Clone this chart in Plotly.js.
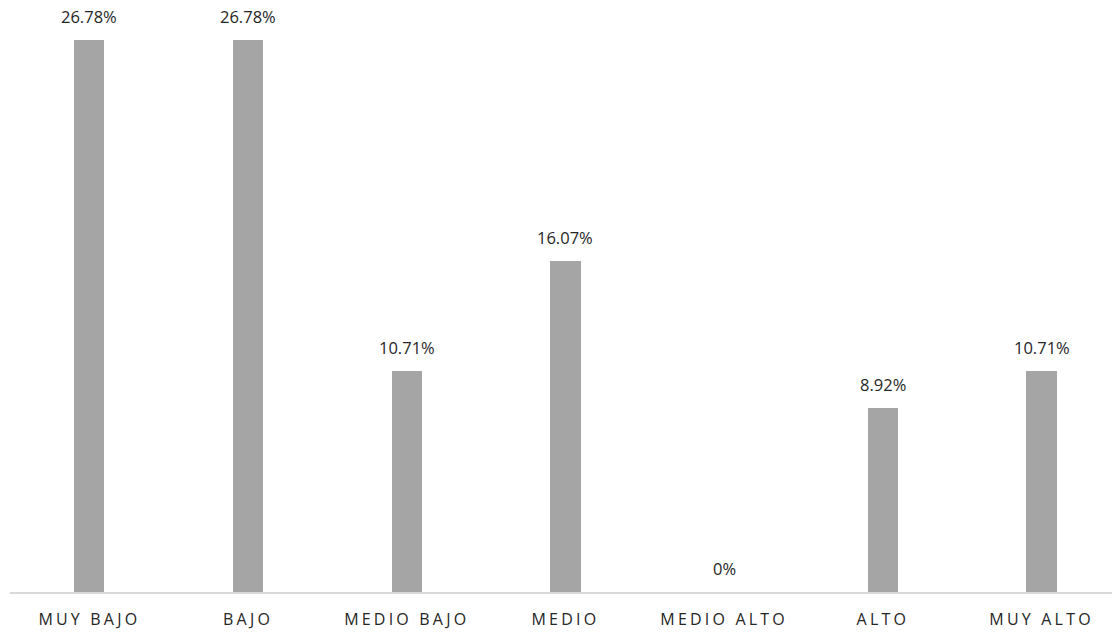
<!DOCTYPE html>
<html><head><meta charset="utf-8">
<script src="https://cdn.plot.ly/plotly-3.0.1.min.js"></script>
<style>
body{margin:0;background:#fff;}
.xtick text{letter-spacing:3.2px;}
</style>
</head><body>
<div id="chart" style="width:1112px;height:632px;"></div>
<script>
const categories = ["MUY BAJO","BAJO","MEDIO BAJO","MEDIO","MEDIO ALTO","ALTO","MUY ALTO"];
const values = [26.78, 26.78, 10.71, 16.07, 0, 8.92, 10.71];
const labels = ["26.78%","26.78%","10.71%","16.07%","0%","8.92%","10.71%"];

const font = {family:"Open Sans, Noto Sans, sans-serif", size:16.5, color:"#262626"};
const tfont = {family:"Open Sans, Noto Sans, sans-serif", size:16, color:"#262626"};

const annotations = categories.map((c,i)=>({
  x:c, y:values[i], xref:"x", yref:"y", text:labels[i], showarrow:false,
  yanchor:"bottom", yshift:10, font:font
}));

Plotly.newPlot("chart",[{
  type:"bar", x:categories, y:values, width:0.19,
  marker:{color:"#a5a5a5"}, hoverinfo:"none"
}],{
  width:1112, height:632,
  margin:{l:10,r:0,t:0,b:40},
  paper_bgcolor:"#fff", plot_bgcolor:"#fff",
  showlegend:false,
  bargap:0,
  xaxis:{type:"category", range:[-0.5,6.444], showgrid:false, zeroline:false,
    showline:true, linecolor:"#d9d9d9", linewidth:1.5, ticks:"", ticklabelstandoff:12,
    tickfont:tfont, fixedrange:true},
  yaxis:{range:[0,28.72], visible:false, showgrid:false, zeroline:false, fixedrange:true},
  annotations:annotations
},{displayModeBar:false, staticPlot:true});
</script>
</body></html>
